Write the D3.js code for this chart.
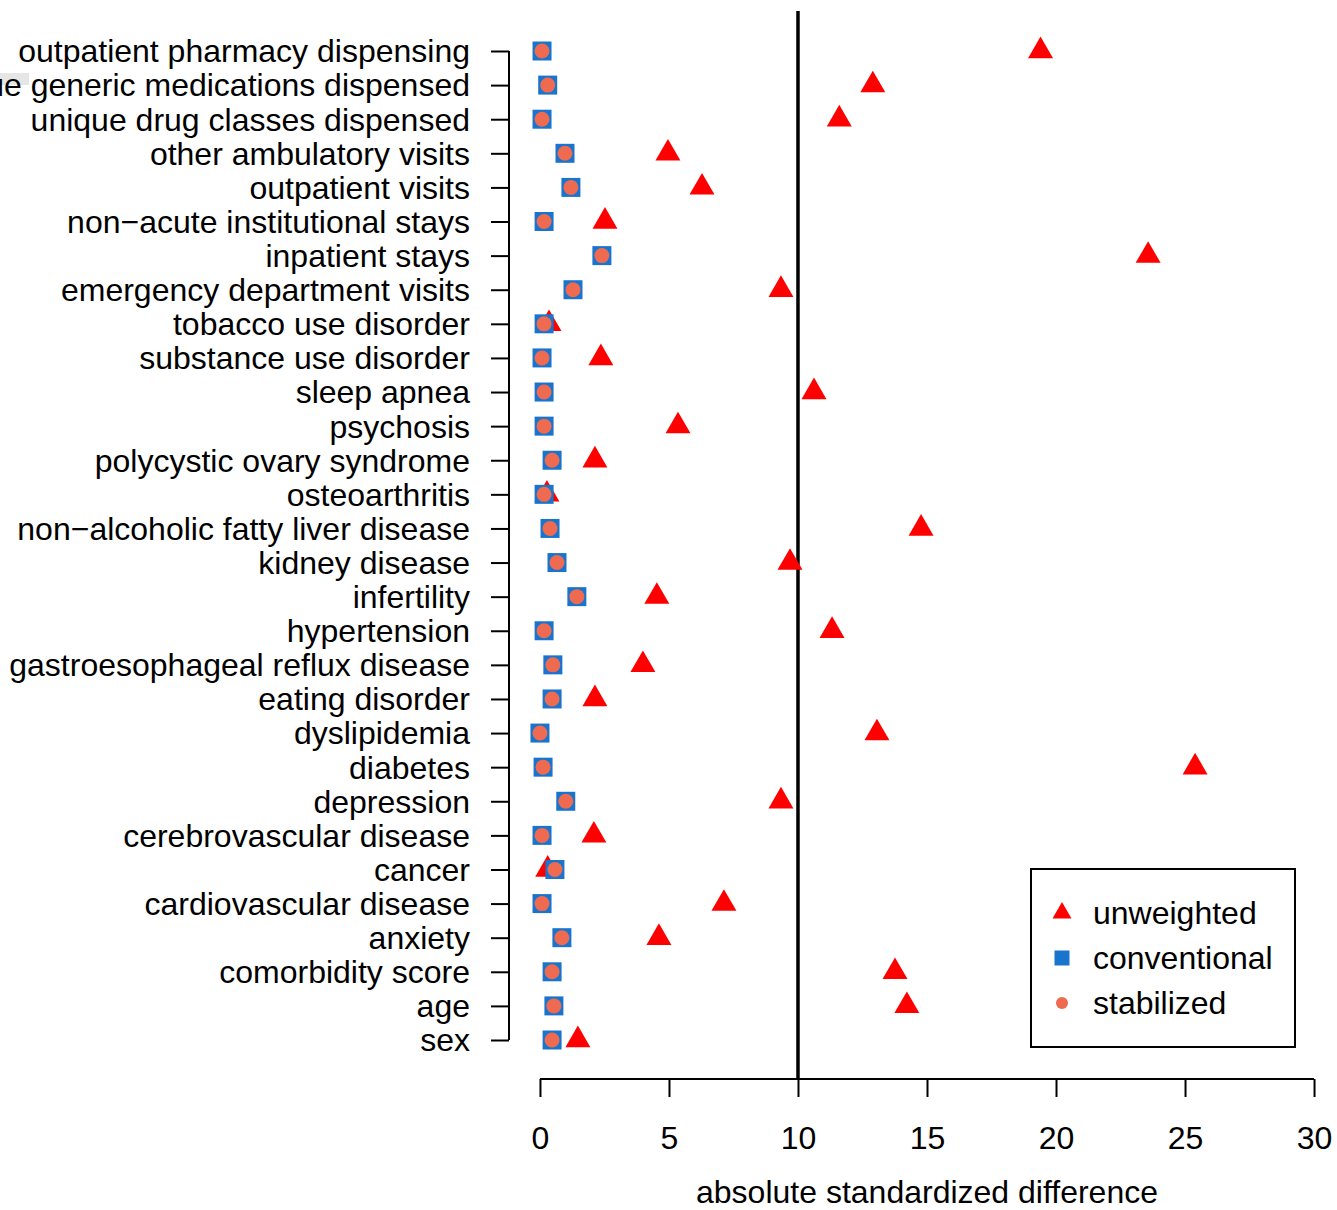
<!DOCTYPE html>
<html><head><meta charset="utf-8">
<script src="https://cdn.jsdelivr.net/npm/d3@7"></script>
<style>body{margin:0;background:#fff}svg{display:block}text{font-family:"Liberation Sans",Arial,sans-serif}</style>
</head><body><svg id="c" width="1337" height="1210"></svg>
<script>
const categories = ["outpatient pharmacy dispensing","unique generic medications dispensed","unique drug classes dispensed","other ambulatory visits","outpatient visits","non\u2212acute institutional stays","inpatient stays","emergency department visits","tobacco use disorder","substance use disorder","sleep apnea","psychosis","polycystic ovary syndrome","osteoarthritis","non\u2212alcoholic fatty liver disease","kidney disease","infertility","hypertension","gastroesophageal reflux disease","eating disorder","dyslipidemia","diabetes","depression","cerebrovascular disease","cancer","cardiovascular disease","anxiety","comorbidity score","age","sex"];
const unweighted   = [19.4,12.9,11.6,4.96,6.28,2.52,23.57,9.34,0.35,2.36,10.62,5.35,2.13,0.27,14.77,9.69,4.53,11.32,3.99,2.13,13.06,25.39,9.34,2.09,0.3,7.13,4.61,13.76,14.22,1.47];
const conventional = [0.08,0.3,0.08,0.97,1.2,0.16,2.4,1.28,0.16,0.08,0.16,0.16,0.47,0.16,0.39,0.66,1.43,0.16,0.5,0.47,0.0,0.12,1.0,0.08,0.58,0.08,0.85,0.47,0.54,0.47];
const stabilized   = [0.08,0.3,0.08,0.97,1.2,0.16,2.4,1.28,0.16,0.08,0.16,0.16,0.47,0.16,0.39,0.66,1.43,0.16,0.5,0.47,0.0,0.12,1.0,0.08,0.58,0.08,0.85,0.47,0.54,0.47];
const xTicks = [0,5,10,15,20,25,30];
const refLine = 10;
const legendLabels = ["unweighted","conventional","stabilized"];
const xTitle = "absolute standardized difference";

const svg = d3.select("#c");
const x = d3.scaleLinear().domain([-1.2, 31.2]).range([509, 1345]);
const y = d3.scalePoint().domain(categories).range([51, 1040]);
const FS = 32;
const RED = "#FF0000", BLUE = "#1874CD", CORAL = "#EE6A50";

// faint artifact box at left
svg.append("rect").attr("x",0).attr("y",73).attr("width",29).attr("height",12).attr("fill","#e6e6e6");

// reference line
svg.append("line").attr("x1",x(refLine)).attr("x2",x(refLine)).attr("y1",11).attr("y2",1079)
  .attr("stroke","#000").attr("stroke-width",3.5);

// y axis
const gy = svg.append("g").attr("transform","translate(509,0)");
gy.append("line").attr("x1",0).attr("x2",0).attr("y1",y(categories[0])).attr("y2",y(categories[categories.length-1])).attr("stroke","#000").attr("stroke-width",2);
gy.call(d3.axisLeft(y).tickSize(18).tickSizeOuter(0).tickPadding(21));
gy.select(".domain").remove();
gy.selectAll(".tick line").attr("stroke","#000").attr("stroke-width",2);
gy.selectAll(".tick text").attr("font-size",FS).attr("fill","#000").attr("dy","0.34em").style("font-family","Liberation Sans, Arial, sans-serif");

// x axis
const gx = svg.append("g").attr("transform","translate(0,1079)");
gx.append("line").attr("x1",x(xTicks[0])).attr("x2",x(xTicks[xTicks.length-1])).attr("y1",0).attr("y2",0).attr("stroke","#000").attr("stroke-width",2);
gx.call(d3.axisBottom(x).tickValues(xTicks).tickFormat(d3.format("d")).tickSize(18).tickSizeOuter(0).tickPadding(29));
gx.select(".domain").remove();
gx.selectAll(".tick line").attr("stroke","#000").attr("stroke-width",2);
gx.selectAll(".tick text").attr("font-size",FS).attr("fill","#000").attr("dy","0.71em").style("font-family","Liberation Sans, Arial, sans-serif");

svg.append("text").attr("x",(509+1345)/2).attr("y",1203).attr("text-anchor","middle").attr("font-size",FS).text(xTitle);

// points
const tri = d3.symbol().type(d3.symbolTriangle).size(270);
const sq = d3.symbol().type(d3.symbolSquare).size(361);
const gp = svg.append("g");
gp.selectAll(".tri").data(unweighted).join("path").attr("d",tri)
  .attr("transform",(d,i)=>`translate(${x(d)},${y(categories[i])})`).attr("fill",RED);
gp.selectAll(".sq").data(conventional).join("path").attr("d",sq)
  .attr("transform",(d,i)=>`translate(${x(d)},${y(categories[i])})`).attr("fill",BLUE);
gp.selectAll(".ci").data(stabilized).join("circle").attr("r",7.5)
  .attr("cx",d=>x(d)).attr("cy",(d,i)=>y(categories[i])).attr("fill",CORAL);

// legend
const lg = svg.append("g");
lg.append("rect").attr("x",1031).attr("y",869).attr("width",264).attr("height",178).attr("fill","#fff").attr("stroke","#000").attr("stroke-width",2);
const ly = [913,958,1003];
lg.append("path").attr("d",d3.symbol().type(d3.symbolTriangle).size(156)).attr("transform",`translate(1062,${ly[0]})`).attr("fill",RED);
lg.append("path").attr("d",d3.symbol().type(d3.symbolSquare).size(225)).attr("transform",`translate(1062,${ly[1]})`).attr("fill",BLUE);
lg.append("circle").attr("cx",1062).attr("cy",ly[2]).attr("r",6).attr("fill",CORAL);
lg.selectAll(".lt").data(legendLabels).join("text").attr("x",1093).attr("y",(d,i)=>ly[i]).attr("dy","0.34em")
  .attr("font-size",FS).text(d=>d);
</script></body></html>
